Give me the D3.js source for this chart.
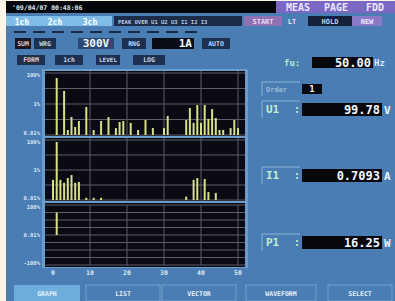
<!DOCTYPE html>
<html>
<head>
<meta charset="utf-8">
<script src="https://cdn.jsdelivr.net/npm/d3@7"></script>
<style>
  body { margin: 0; background: #fbf5e6; }
  svg { display: block; }
  text { font-family: "DejaVu Sans Mono", monospace; font-weight: bold; }
</style>
</head>
<body>
<div id="chart"></div>
<script>
var w = 395, h = 301;

var uOrders = [1, 3, 4, 5, 6, 7, 9, 11, 13, 15, 17, 18, 19, 21, 23, 25, 27, 30, 31,
               36, 37, 38, 39, 40, 41, 42, 43, 44, 45, 46, 48, 49, 50];
var uLevels = [48, 6.9, 0.021, 0.145, 0.033, 0.08, 0.64, 0.021, 0.08, 0.145, 0.028, 0.069, 0.08, 0.06, 0.021, 0.093, 0.028, 0.028, 0.17,
               0.093, 0.55, 0.06, 0.86, 0.06, 0.86, 0.11, 0.47, 0.125, 0.021, 0.021, 0.028, 0.093, 0.028];

var iOrders = [0, 1, 2, 3, 4, 5, 6, 7, 9, 11, 13, 36, 38, 39, 41, 42, 44];
var iLevels = [0.22, 74, 0.22, 0.14, 0.29, 0.46, 0.14, 0.16, 0.014, 0.014, 0.014, 0.017, 0.22, 0.29, 0.25, 0.034, 0.029];

var pOrders = [1];
var pLevels = [10];

var xTicks = [0, 10, 20, 30, 40, 50];
var logTicks = [0.01, 0.1, 1, 10, 100];

var svg = d3.select("#chart").append("svg")
  .attr("width", w)
  .attr("height", h);

// screen
svg.append("rect").attr("x", 6).attr("y", 1).attr("width", w - 6).attr("height", h - 1)
  .attr("fill", "#4a7db3");

// ---- header rows ----
svg.append("rect").attr("x", 6).attr("y", 1).attr("width", w - 6).attr("height", 12).attr("fill", "#05060a");
svg.append("text").attr("x", 12).attr("y", 10).attr("font-size", "6.5px").attr("fill", "#dfe6f0")
  .text("'09/04/07 00:48:06");
svg.append("rect").attr("x", 276).attr("y", 1).attr("width", 119).attr("height", 12).attr("fill", "#7a68c4");
[["MEAS", 298], ["PAGE", 336], ["FDD", 375]].forEach(function(d) {
  svg.append("text").attr("x", d[1]).attr("y", 11).attr("text-anchor", "middle")
    .attr("font-size", "10px").attr("fill", "#ece6ff").text(d[0]);
});

// channel tabs
svg.append("rect").attr("x", 6).attr("y", 16).attr("width", 106).attr("height", 10).attr("fill", "#7fbde8");
[["1ch", 22], ["2ch", 55], ["3ch", 90]].forEach(function(d) {
  svg.append("text").attr("x", d[1]).attr("y", 24.5).attr("text-anchor", "middle")
    .attr("font-size", "8px").attr("fill", "#ffffff").text(d[0]);
});
svg.append("rect").attr("x", 114).attr("y", 16).attr("width", 128).attr("height", 10).attr("fill", "#1c2c48");
svg.append("text").attr("x", 118).attr("y", 23.5).attr("font-size", "5.5px").attr("fill", "#b8c8e0")
  .text("PEAK OVER U1 U2 U3 I1 I2 I3");
svg.append("rect").attr("x", 244).attr("y", 16).attr("width", 38).attr("height", 10).attr("fill", "#8e72b4");
svg.append("text").attr("x", 263).attr("y", 24).attr("text-anchor", "middle").attr("font-size", "7px")
  .attr("fill", "#e8dcf4").text("START");
svg.append("text").attr("x", 292).attr("y", 24).attr("text-anchor", "middle").attr("font-size", "7px")
  .attr("fill", "#e8dcf4").text("LT");
svg.append("rect").attr("x", 308).attr("y", 16).attr("width", 44).attr("height", 10).attr("fill", "#15203a");
svg.append("text").attr("x", 330).attr("y", 24).attr("text-anchor", "middle").attr("font-size", "7px")
  .attr("fill", "#c0cce0").text("HOLD");
svg.append("rect").attr("x", 352).attr("y", 16).attr("width", 30).attr("height", 10).attr("fill", "#8a78c8");
svg.append("text").attr("x", 367).attr("y", 24).attr("text-anchor", "middle").attr("font-size", "7px")
  .attr("fill", "#eee8ff").text("NEW");

// small dashes
d3.range(14, 200, 19).forEach(function(x) {
  svg.append("rect").attr("x", x).attr("y", 31).attr("width", 12).attr("height", 2).attr("fill", "#1b2a44");
});

// range row
function box(x, y, bw, bh, fill, label, color, size, anchor) {
  svg.append("rect").attr("x", x).attr("y", y).attr("width", bw).attr("height", bh).attr("fill", fill);
  var tx = anchor === "end" ? x + bw - 2 : x + bw / 2;
  svg.append("text").attr("x", tx).attr("y", y + bh / 2).attr("dy", "0.36em")
    .attr("text-anchor", anchor || "middle").attr("font-size", size).attr("fill", color).text(label);
}
box(15, 38, 16, 11, "#12182a", "SUM", "#c8d4e8", "6.5px");
box(34, 38, 22, 11, "#1e3050", "WRG", "#c8d4e8", "6.5px");
box(78, 38, 36, 11, "#2c4a74", "300V", "#f4f8ff", "11px");
box(122, 38, 24, 11, "#1e3050", "RNG", "#c8d4e8", "6.5px");
box(152, 38, 42, 11, "#0a0d16", "1A", "#f4f8ff", "11px", "end");
box(202, 38, 28, 11, "#1e3050", "AUTO", "#c8d4e8", "6.5px");

box(17, 55, 28, 10, "#1e3050", "FORM", "#c8d4e8", "6.5px");
box(55, 55, 28, 10, "#1e3050", "1ch", "#c8d4e8", "6.5px");
box(96, 55, 24, 10, "#1e3050", "LEVEL", "#c8d4e8", "6px");
box(133, 55, 32, 10, "#1e3050", "LOG", "#c8d4e8", "6.5px");

// ---- right readouts ----
svg.append("text").attr("x", 284).attr("y", 66).attr("font-size", "9px").attr("fill", "#b8ecc8").text("fu:");
box(312, 57, 61, 11, "#06080e", "50.00", "#f4f8ff", "12px", "end");
svg.append("text").attr("x", 374).attr("y", 66).attr("font-size", "9px").attr("fill", "#d8e8f8").text("Hz");

function frame(y, hh) {
  svg.append("path")
    .attr("d", "M262," + (y + hh) + "V" + y + "H300")
    .attr("fill", "none").attr("stroke", "#8fb4da").attr("stroke-width", 1);
}
frame(82, 14);
svg.append("text").attr("x", 266).attr("y", 92).attr("font-size", "7px").attr("fill", "#9ab8d8").text("Order");
box(302, 84, 20, 10, "#06080e", "1", "#f4f8ff", "9px");

var readouts = [["U1", "99.78", "V", 103], ["I1", "0.7093", "A", 169], ["P1", "16.25", "W", 236]];
readouts.forEach(function(d) {
  frame(d[3] - 2, 17);
  svg.append("text").attr("x", 266).attr("y", d[3] + 10).attr("font-size", "11px").attr("fill", "#c4ecd0").text(d[0]);
  svg.append("text").attr("x", 294).attr("y", d[3] + 10).attr("font-size", "10px").attr("fill", "#c4ecd0").text(":");
  box(302, d[3], 80, 13, "#06080e", d[1], "#f4f8ff", "12px", "end");
  svg.append("text").attr("x", 384).attr("y", d[3] + 11).attr("font-size", "11px").attr("fill", "#e8f0f8").text(d[2]);
});

// ---- bottom keys ----
var keys = [["GRAPH", 14, 80], ["LIST", 86, 160], ["VECTOR", 162, 236], ["WAVEFORM", 246, 316], ["SELECT", 328, 392]];
keys.forEach(function(d, i) {
  svg.append("rect").attr("x", d[1]).attr("y", 285).attr("width", d[2] - d[1]).attr("height", 16)
    .attr("fill", i === 0 ? "#6eaedc" : "#4a7db3")
    .attr("stroke", i === 0 ? "none" : "#7ea8d4").attr("stroke-width", 0.8);
  svg.append("text").attr("x", (d[1] + d[2]) / 2).attr("y", 296).attr("text-anchor", "middle")
    .attr("font-size", "6.5px").attr("fill", "#e4eef8").text(d[0]);
});

// ---- harmonic graph ----
var x = d3.scaleLinear().domain([0, 50]).range([53, 238]);
var plotL = 45, plotR = 245;

svg.append("rect").attr("x", 42).attr("y", 69).attr("width", 206).attr("height", 199).attr("fill", "#6a9ccc");
svg.append("rect").attr("x", plotL).attr("y", 71).attr("width", plotR - plotL).attr("height", 196).attr("fill", "#0a0a12");

var panels = [
  { top: 73, bottom: 135, orders: uOrders, levels: uLevels },
  { top: 140, bottom: 200, orders: iOrders, levels: iLevels }
];

panels.forEach(function(p) {
  var y = d3.scaleLog().domain([0.01, 100]).range([p.bottom, p.top]);

  svg.selectAll(null).data(logTicks).enter().append("line")
    .attr("x1", plotL).attr("x2", plotR)
    .attr("y1", function(d) { return y(d); })
    .attr("y2", function(d) { return y(d); })
    .attr("stroke", "#5c5c6c").attr("stroke-width", 1);

  svg.selectAll(null).data(xTicks.slice(1)).enter().append("line")
    .attr("x1", function(d) { return x(d); }).attr("x2", function(d) { return x(d); })
    .attr("y1", p.top - 2).attr("y2", p.bottom)
    .attr("stroke", "#5c5c6c").attr("stroke-width", 1);

  svg.selectAll(null).data(p.orders).enter().append("rect")
    .attr("x", function(d) { return x(d) - 1; })
    .attr("y", function(d, i) { return y(p.levels[i]); })
    .attr("width", 2)
    .attr("height", function(d, i) { return p.bottom - y(p.levels[i]); })
    .attr("fill", "#d6de86");

  [["100%", 100, "0.75em"], ["1%", 1, "0.35em"], ["0.01%", 0.01, "0em"]].forEach(function(t) {
    svg.append("text").attr("x", 40).attr("y", y(t[1])).attr("dy", t[2])
      .attr("text-anchor", "end").attr("font-size", "5.5px").attr("fill", "#dce8f6").text(t[0]);
  });

  svg.append("rect").attr("x", 42).attr("y", p.bottom + 1).attr("width", 206).attr("height", 2).attr("fill", "#6a9ccc");
});

// power panel: signed log, 0.01% at the centre line
var pTop = 205, pBot = 265, pMid = (pTop + pBot) / 2;
var yUp = d3.scaleLog().domain([0.01, 100]).range([pMid, pTop]);
var yDn = d3.scaleLog().domain([0.01, 100]).range([pMid, pBot]);

svg.selectAll(null).data(logTicks).enter().append("line")
  .attr("x1", plotL).attr("x2", plotR)
  .attr("y1", function(d) { return yUp(d); }).attr("y2", function(d) { return yUp(d); })
  .attr("stroke", "#5c5c6c");
svg.selectAll(null).data(logTicks.slice(1)).enter().append("line")
  .attr("x1", plotL).attr("x2", plotR)
  .attr("y1", function(d) { return yDn(d); }).attr("y2", function(d) { return yDn(d); })
  .attr("stroke", "#5c5c6c");
svg.selectAll(null).data(xTicks.slice(1)).enter().append("line")
  .attr("x1", function(d) { return x(d); }).attr("x2", function(d) { return x(d); })
  .attr("y1", pTop).attr("y2", pBot)
  .attr("stroke", "#5c5c6c");

svg.selectAll(null).data(pOrders).enter().append("rect")
  .attr("x", function(d) { return x(d) - 1; })
  .attr("y", function(d, i) { return yUp(pLevels[i]); })
  .attr("width", 2)
  .attr("height", function(d, i) { return pMid - yUp(pLevels[i]); })
  .attr("fill", "#d6de86");

[["100%", pTop, "0.75em"], ["0.01%", pMid, "0.35em"], ["-100%", pBot, "0em"]].forEach(function(t) {
  svg.append("text").attr("x", 40).attr("y", t[1]).attr("dy", t[2])
    .attr("text-anchor", "end").attr("font-size", "5.5px").attr("fill", "#dce8f6").text(t[0]);
});

// x axis
svg.selectAll(null).data(xTicks).enter().append("text")
  .attr("x", function(d) { return x(d); })
  .attr("y", 275)
  .attr("text-anchor", "middle")
  .attr("font-size", "6.5px")
  .attr("fill", "#dce8f6")
  .text(function(d) { return d; });
</script>
</body>
</html>
